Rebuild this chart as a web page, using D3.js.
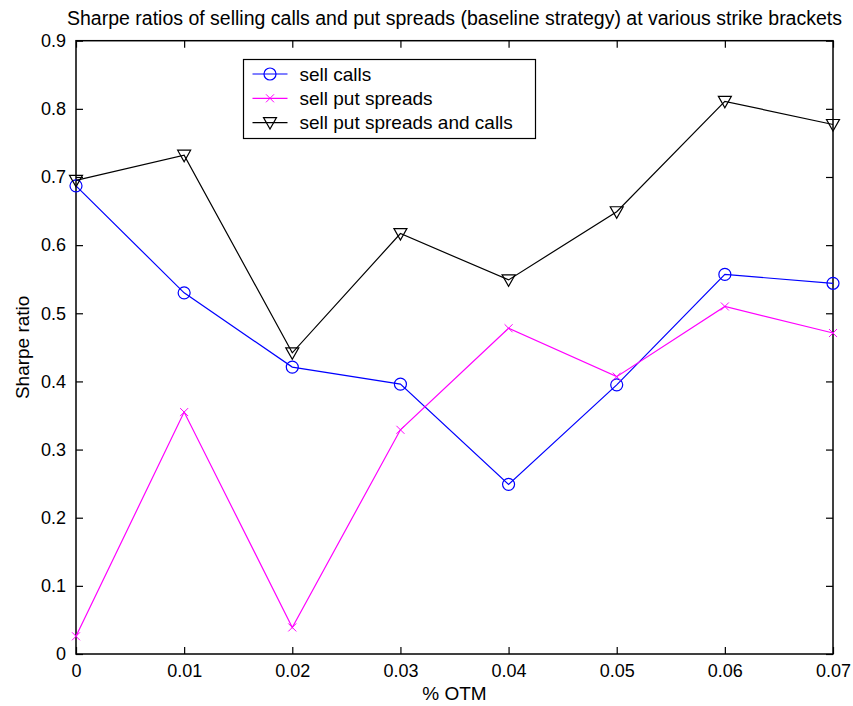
<!DOCTYPE html>
<html>
<head>
<meta charset="utf-8">
<script src="https://cdn.jsdelivr.net/npm/d3@7"></script>
<style>
  body { margin: 0; background: #fff; }
  text { font-family: "Liberation Sans", Arial, sans-serif; fill: #000; }
</style>
</head>
<body>
<svg id="chart" width="853" height="706"></svg>
<script>
// x values (% OTM)
var otm = [0, 0.01, 0.02, 0.03, 0.04, 0.05, 0.06, 0.07];
// Sharpe ratios per strategy
var sellCalls = [0.687, 0.530, 0.421, 0.396, 0.249, 0.395, 0.557, 0.544];
var sellPutSpreads = [0.026, 0.355, 0.039, 0.329, 0.478, 0.407, 0.510, 0.471];
var sellBoth = [0.695, 0.732, 0.442, 0.617, 0.549, 0.649, 0.811, 0.777];
// tick labels
var xTicks = [0, 0.01, 0.02, 0.03, 0.04, 0.05, 0.06, 0.07];
var yTicks = [0, 0.1, 0.2, 0.3, 0.4, 0.5, 0.6, 0.7, 0.8, 0.9];
var seriesNames = ["sell calls", "sell put spreads", "sell put spreads and calls"];

var svg = d3.select("#chart");
var margin = {top: 40.7, right: 20, bottom: 52, left: 76},
    width = +svg.attr("width") - margin.left - margin.right,
    height = +svg.attr("height") - margin.top - margin.bottom;

var g = svg.append("g")
    .attr("transform", "translate(" + margin.left + "," + margin.top + ")");

var x = d3.scaleLinear().domain([0, 0.07]).range([0, width]);
var y = d3.scaleLinear().domain([0, 0.9]).range([height, 0]);

var fmt = function(d) { return d === 0 ? "0" : d3.format(".2~f")(d); };

// axes: ticks point inward, MATLAB style box with ticks on all sides
function styleAxis(sel) {
    sel.select(".domain").remove();
    sel.selectAll(".tick line").attr("stroke", "#000").attr("stroke-width", 1.2);
    sel.selectAll(".tick text").style("font-size", "18px").attr("fill", "#000");
}

g.append("g")
    .attr("transform", "translate(0," + height + ")")
    .call(d3.axisBottom(x).tickValues(xTicks).tickFormat(fmt).tickSizeInner(-7).tickSizeOuter(0).tickPadding(10))
    .call(styleAxis);

g.append("g")
    .call(d3.axisTop(x).tickValues(xTicks).tickFormat("").tickSizeInner(-7).tickSizeOuter(0))
    .call(styleAxis);

g.append("g")
    .call(d3.axisLeft(y).tickValues(yTicks).tickFormat(fmt).tickSizeInner(-7).tickSizeOuter(0).tickPadding(10))
    .call(styleAxis);

g.append("g")
    .attr("transform", "translate(" + width + ",0)")
    .call(d3.axisRight(y).tickValues(yTicks).tickFormat("").tickSizeInner(-7).tickSizeOuter(0))
    .call(styleAxis);

g.append("rect")
    .attr("width", width)
    .attr("height", height)
    .attr("fill", "none")
    .attr("stroke", "#000")
    .attr("stroke-width", 1.5);

// series
var series = [
    {name: seriesNames[0], values: sellCalls, color: "#0000ff", marker: "circle"},
    {name: seriesNames[1], values: sellPutSpreads, color: "#ff00ff", marker: "cross"},
    {name: seriesNames[2], values: sellBoth, color: "#000000", marker: "tri"}
];

var line = d3.line()
    .x(function(d, i) { return x(otm[i]); })
    .y(function(d) { return y(d); });

function drawMarker(sel, type, color) {
    if (type === "circle") {
        sel.append("circle").attr("r", 6)
            .attr("fill", "none").attr("stroke", color).attr("stroke-width", 1.2);
    } else if (type === "cross") {
        sel.append("path").attr("d", "M-4,-4L4,4M-4,4L4,-4")
            .attr("fill", "none").attr("stroke", color).attr("stroke-width", 1);
    } else {
        sel.append("path").attr("d", "M-6.5,-5L6.5,-5L0,6.5Z")
            .attr("fill", "none").attr("stroke", color).attr("stroke-width", 1.2);
    }
}

series.forEach(function(s) {
    g.append("path")
        .datum(s.values)
        .attr("d", line)
        .attr("fill", "none")
        .attr("stroke", s.color)
        .attr("stroke-width", 1.2);

    g.selectAll(null)
        .data(s.values)
        .enter()
        .append("g")
        .attr("transform", function(d, i) { return "translate(" + x(otm[i]) + "," + y(d) + ")"; })
        .each(function() { drawMarker(d3.select(this), s.marker, s.color); });
});

// title and labels
svg.append("text")
    .attr("x", margin.left + width / 2)
    .attr("y", 25)
    .attr("text-anchor", "middle")
    .style("font-size", "19.5px")
    .text("Sharpe ratios of selling calls and put spreads (baseline strategy) at various strike brackets");

svg.append("text")
    .attr("x", margin.left + width / 2)
    .attr("y", 700)
    .attr("text-anchor", "middle")
    .style("font-size", "19px")
    .text("% OTM");

svg.append("text")
    .attr("transform", "translate(29," + (margin.top + height / 2) + ") rotate(-90)")
    .attr("text-anchor", "middle")
    .style("font-size", "19px")
    .text("Sharpe ratio");

// legend
var legend = svg.append("g").attr("transform", "translate(243.5,59.5)");
legend.append("rect")
    .attr("width", 292)
    .attr("height", 79)
    .attr("fill", "#fff")
    .attr("stroke", "#000")
    .attr("stroke-width", 1.2);

series.forEach(function(s, i) {
    var row = legend.append("g").attr("transform", "translate(0," + (14.5 + i * 24.3) + ")");
    row.append("line")
        .attr("x1", 9).attr("x2", 44)
        .attr("stroke", s.color).attr("stroke-width", 1.2);
    drawMarker(row.append("g").attr("transform", "translate(26.5,0)"), s.marker, s.color);
    row.append("text")
        .attr("x", 56)
        .attr("dy", "0.35em")
        .style("font-size", "19px")
        .text(s.name);
});
</script>
</body>
</html>
